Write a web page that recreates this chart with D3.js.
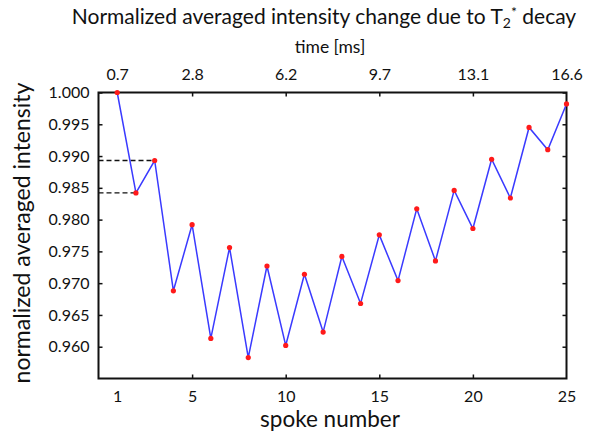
<!DOCTYPE html>
<html><head><meta charset="utf-8">
<script src="https://cdn.jsdelivr.net/npm/d3@7"></script>
<style>body{margin:0;background:#fff}svg{display:block}text{font-family:Lato,"Open Sans",sans-serif;fill:#111}</style>
</head><body>
<script>
const spokes = [1,2,3,4,5,6,7,8,9,10,11,12,13,14,15,16,17,18,19,20,21,22,23,24,25];
const intensity = [1.0000,0.9842,0.9893,0.9688,0.9792,0.9613,0.9756,0.9583,0.9727,0.9602,
  0.9714,0.9623,0.9742,0.9668,0.9776,0.9704,0.9817,0.9735,0.9846,0.9786,0.9895,0.9834,0.9945,0.9910,0.9982];
const bottomTicks = [1,5,10,15,20,25];
const topTickSpokes = [1,5,10,15,20,25];
const topTickLabels = ["0.7","2.8","6.2","9.7","13.1","16.6"];
const yTicks = [0.960,0.965,0.970,0.975,0.980,0.985,0.990,0.995,1.000];
const refSpokes = [2,3];

const W=592,H=435;
const m={l:98.5,r:566.5,t:92.5,b:378.5};
const svg=d3.select("body").append("svg").attr("width",W).attr("height",H);
const x=d3.scaleLinear().domain([0,25]).range([m.l,m.r]);
const y=d3.scaleLinear().domain([0.955,1.0]).range([m.b,m.t]);

// dashed reference lines
refSpokes.forEach(s=>{
  const v=intensity[s-1];
  svg.append("line").attr("x1",m.l).attr("x2",x(s)).attr("y1",y(v)).attr("y2",y(v))
    .attr("stroke","#111").attr("stroke-width",1.3).attr("stroke-dasharray","5,3");
});

// axes
const tl=4;
const gB=svg.append("g").attr("transform",`translate(0,${m.b})`)
  .call(d3.axisBottom(x).tickValues(bottomTicks).tickSize(-tl).tickPadding(12).tickFormat(d3.format("d")));
const gT=svg.append("g").attr("transform",`translate(0,${m.t})`)
  .call(d3.axisTop(x).tickValues(topTickSpokes).tickSize(-tl).tickPadding(13).tickFormat((d,i)=>topTickLabels[i]));
const gL=svg.append("g").attr("transform",`translate(${m.l},0)`)
  .call(d3.axisLeft(y).tickValues(yTicks).tickSize(-tl).tickPadding(9).tickFormat(d3.format(".3f")));
const gR=svg.append("g").attr("transform",`translate(${m.r},0)`)
  .call(d3.axisRight(y).tickValues(yTicks).tickSize(-tl).tickFormat(""));
[gB,gT,gL,gR].forEach(g=>{
  g.select(".domain").remove();
  g.selectAll(".tick line").attr("stroke","#111").attr("stroke-width",1.5);
  g.selectAll(".tick text").style("font-family","Lato, sans-serif").style("font-size","16px").attr("fill","#111");
});
[gB,gT].forEach(g=>g.selectAll(".tick").filter(d=>d===1||d===25).select("line").remove());

// frame
svg.append("rect").attr("x",m.l).attr("y",m.t).attr("width",m.r-m.l).attr("height",m.b-m.t)
  .attr("fill","none").attr("stroke","#111").attr("stroke-width",2);

// data
const line=d3.line().x((d,i)=>x(spokes[i])).y(d=>y(d));
svg.append("path").datum(intensity).attr("d",line).attr("fill","none").attr("stroke","#3a3aff").attr("stroke-width",1.5);
svg.selectAll("circle.pt").data(intensity).join("circle").attr("class","pt")
  .attr("cx",(d,i)=>x(spokes[i])).attr("cy",d=>y(d)).attr("r",2.6).attr("fill","#ff1a1a");

// labels
const t=svg.append("text").attr("x",324).attr("y",24).attr("text-anchor","middle").style("font-size","21px");
t.append("tspan").text("Normalized averaged intensity change due to T");
t.append("tspan").text("2").style("font-size","14px").attr("dy",4);
t.append("tspan").text("*").style("font-size","14px").attr("dy",-11);
t.append("tspan").text(" decay").attr("dy",7);
svg.append("text").attr("x",330).attr("y",53).attr("text-anchor","middle").style("font-size","17.5px").text("time [ms]");
svg.append("text").attr("x",330).attr("y",427).attr("text-anchor","middle").style("font-size","22.5px").text("spoke number");
svg.append("text").attr("transform","translate(30,233) rotate(-90)").attr("text-anchor","middle").style("font-size","23px").text("normalized averaged intensity");
</script>
</body></html>
